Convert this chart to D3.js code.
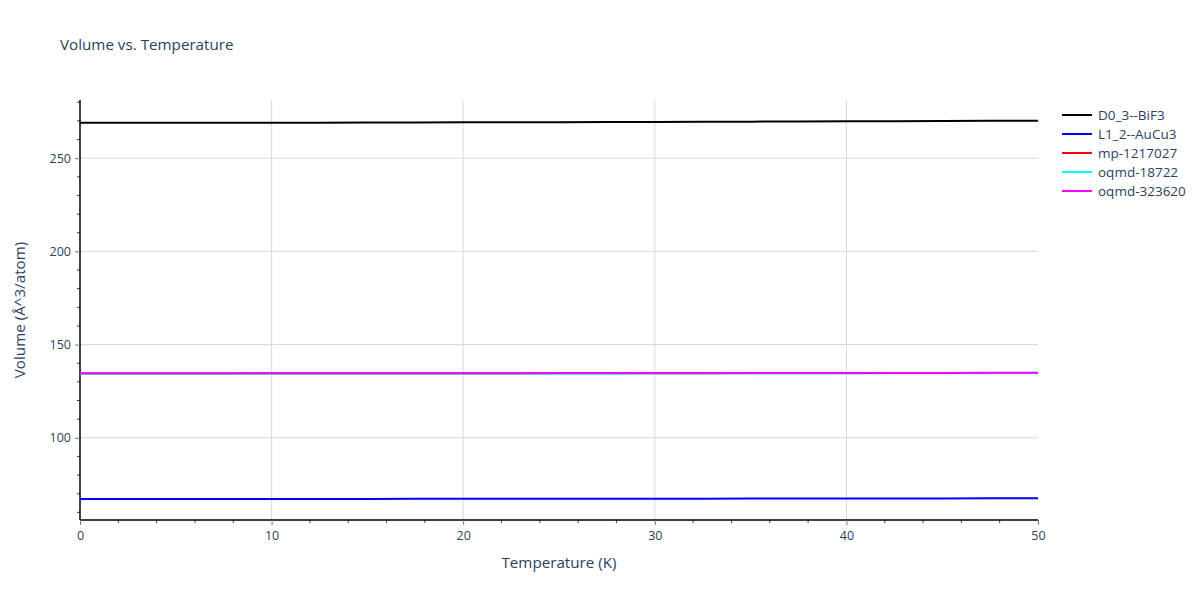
<!DOCTYPE html>
<html>
<head>
<meta charset="utf-8">
<script src="https://cdn.jsdelivr.net/npm/d3@7"></script>
<style>
  body { margin: 0; background: #fff; }
  text { font-family: "Open Sans", verdana, arial, sans-serif; }
</style>
</head>
<body>
<div id="chart"></div>
<script>
// temperatures (K)
var temps = [0, 5, 10, 15, 20, 25, 30, 35, 40, 45, 50];

// volumes
var bif3 = [268.95, 268.97, 269.02, 269.1, 269.2, 269.32, 269.45, 269.6, 269.76, 269.93, 270.1];
var aucu3 = [67.2, 67.2, 67.21, 67.23, 67.26, 67.3, 67.34, 67.39, 67.44, 67.5, 67.55];
var mp1217027 = [134.55, 134.55, 134.56, 134.58, 134.61, 134.64, 134.67, 134.7, 134.74, 134.78, 134.82];
var oqmd18722 = [134.3, 134.3, 134.31, 134.33, 134.36, 134.4, 134.44, 134.49, 134.54, 134.59, 134.65];
var oqmd323620 = [134.6, 134.6, 134.61, 134.63, 134.66, 134.69, 134.72, 134.75, 134.78, 134.81, 134.84];

var names = ["D0_3--BiF3", "L1_2--AuCu3", "mp-1217027", "oqmd-18722", "oqmd-323620"];
var colors = ["black", "blue", "red", "cyan", "magenta"];
var seriesValues = [bif3, aucu3, mp1217027, oqmd18722, oqmd323620];

var svgWidth = 1200;
var svgHeight = 600;

var margin = {
  top: 100,
  right: 162,
  bottom: 80,
  left: 80
};

var width = svgWidth - margin.left - margin.right;
var height = svgHeight - margin.top - margin.bottom;

var svg = d3.select("#chart")
  .append("svg")
  .attr("width", svgWidth)
  .attr("height", svgHeight);

var chartGroup = svg.append("g")
  .attr("transform", `translate(${margin.left}, ${margin.top})`);

var xScale = d3.scaleLinear().domain([0, 50]).range([0, width]);
var yScale = d3.scaleLinear().domain([55.9, 281.2]).range([height, 0]);

var textColor = "#2a3f5f";

// grid lines
chartGroup.append("g")
  .selectAll("line")
  .data([10, 20, 30, 40])
  .enter()
  .append("line")
  .attr("x1", d => xScale(d))
  .attr("x2", d => xScale(d))
  .attr("y1", 0)
  .attr("y2", height)
  .attr("stroke", "#d9d9d9")
  .attr("stroke-width", 1);

chartGroup.append("g")
  .selectAll("line")
  .data([100, 150, 200, 250])
  .enter()
  .append("line")
  .attr("x1", 0)
  .attr("x2", width)
  .attr("y1", d => yScale(d))
  .attr("y2", d => yScale(d))
  .attr("stroke", "#d9d9d9")
  .attr("stroke-width", 1);

// minor ticks
chartGroup.append("g")
  .selectAll("line")
  .data(d3.range(0, 51, 2).filter(d => d % 10 !== 0))
  .enter()
  .append("line")
  .attr("x1", d => xScale(d))
  .attr("x2", d => xScale(d))
  .attr("y1", height)
  .attr("y2", height + 3)
  .attr("stroke", "#444");

chartGroup.append("g")
  .selectAll("line")
  .data(d3.range(60, 281, 10).filter(d => d % 50 !== 0))
  .enter()
  .append("line")
  .attr("x1", -3)
  .attr("x2", 0)
  .attr("y1", d => yScale(d))
  .attr("y2", d => yScale(d))
  .attr("stroke", "#444");

// axes
var bottomAxis = d3.axisBottom(xScale).tickValues([0, 10, 20, 30, 40, 50]).tickSize(5).tickPadding(6);
var leftAxis = d3.axisLeft(yScale).tickValues([100, 150, 200, 250]).tickSize(5).tickPadding(4);

var xAxis = chartGroup.append("g")
  .attr("transform", `translate(0, ${height})`)
  .call(bottomAxis);

var yAxis = chartGroup.append("g")
  .call(leftAxis);

[xAxis, yAxis].forEach(function(ax) {
  ax.select(".domain").attr("stroke", "black").attr("stroke-width", 1.5);
  ax.selectAll(".tick line").attr("stroke", "#777");
  ax.selectAll(".tick text")
    .attr("fill", textColor)
    .style("font-size", "12.5px")
    .style("font-family", "\"Open Sans\", verdana, arial, sans-serif");
});
yAxis.select(".domain").attr("d", `M0,${height}V0`);
xAxis.select(".domain").attr("d", `M0,0H${width}`);

// lines
var line = d3.line()
  .x((d, i) => xScale(temps[i]))
  .y(d => yScale(d))
  .curve(d3.curveMonotoneX);

seriesValues.forEach(function(vals, i) {
  chartGroup.append("path")
    .datum(vals)
    .attr("d", line)
    .attr("fill", "none")
    .attr("stroke", colors[i])
    .attr("stroke-width", 2);
});

// title
svg.append("text")
  .attr("x", 60)
  .attr("y", 50)
  .attr("fill", textColor)
  .style("font-size", "15.2px")
  .text("Volume vs. Temperature");

// axis labels
svg.append("text")
  .attr("x", margin.left + width / 2)
  .attr("y", 568)
  .attr("text-anchor", "middle")
  .attr("fill", textColor)
  .style("font-size", "15.2px")
  .text("Temperature (K)");

svg.append("text")
  .attr("transform", `translate(25, ${margin.top + height / 2}) rotate(-90)`)
  .attr("text-anchor", "middle")
  .attr("fill", textColor)
  .style("font-size", "15.2px")
  .text("Volume (Å^3/atom)");

// legend
var legend = svg.append("g")
  .attr("transform", "translate(1062, 115)");

names.forEach(function(name, i) {
  var row = legend.append("g").attr("transform", `translate(0, ${i * 19})`);
  row.append("line")
    .attr("x1", 0)
    .attr("x2", 30)
    .attr("y1", 0)
    .attr("y2", 0)
    .attr("stroke", colors[i])
    .attr("stroke-width", 2);
  row.append("text")
    .attr("x", 36)
    .attr("y", 4.5)
    .attr("fill", textColor)
    .style("font-size", "13.5px")
    .text(name);
});
</script>
</body>
</html>
